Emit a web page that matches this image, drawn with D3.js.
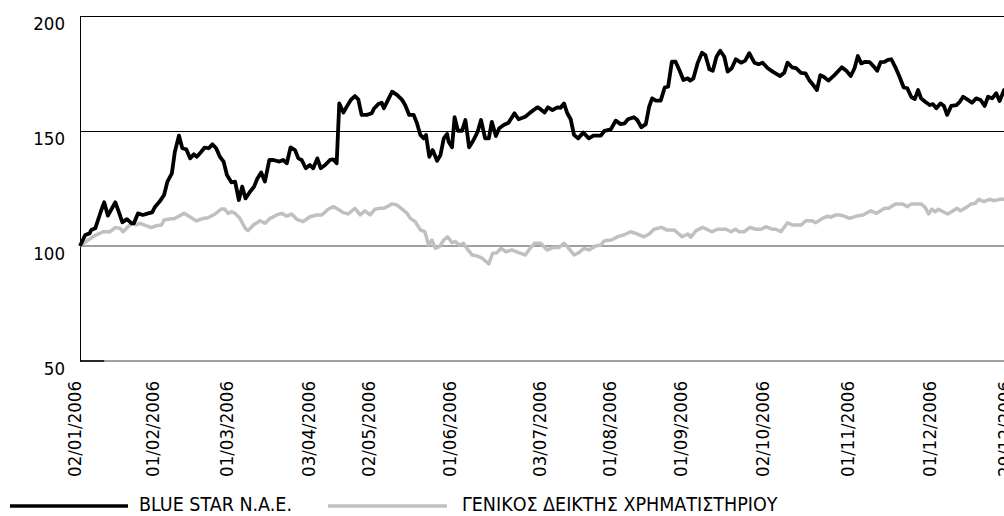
<!DOCTYPE html>
<html>
<head>
<meta charset="utf-8">
<script src="https://cdn.jsdelivr.net/npm/d3@7"></script>
<style>
  html, body { margin: 0; padding: 0; background: #fff; }
  svg { display: block; font-family: "DejaVu Sans Condensed", "DejaVu Sans", sans-serif; }
</style>
</head>
<body>
<svg id="chart"></svg>
<script>
// trading-day index (0 = 02/01/2006) and index value (base 100)
const blueStar = [[0,100],[1.4,104.8],[2.6,105.5],[3.0,107],[4.1,107.7],[5.6,115],[6.5,119],[7.5,113.2],[9.5,119],[10.4,114.9],[11.4,110.3],[12.6,111.7],[13.8,109.9],[14.5,109.9],[15.6,114.2],[16.9,113.5],[18.3,114.2],[19.4,114.6],[20.2,117.1],[21.4,119.3],[22.6,122.2],[23.5,128],[24.7,131.6],[25.5,141],[26.6,148],[27.5,142.5],[28.6,142],[29.6,138.1],[30.6,139.9],[31.4,138.8],[32.6,141],[33.5,142.8],[34.6,142.5],[35.6,144.2],[36.6,142.5],[37.6,138.8],[38.6,136.7],[39.5,130.9],[40.7,127.7],[41.7,128],[42.7,120],[43.6,125.8],[44.5,120.7],[45.7,123.6],[46.8,125.8],[47.7,129.4],[48.7,132],[49.7,128],[50.9,137.4],[52.0,137.4],[53.6,136.7],[54.6,137.4],[55.6,136],[56.6,142.9],[57.8,141.7],[58.7,138.1],[59.6,137.4],[60.7,133.8],[61.8,135.2],[62.7,133.8],[63.8,138.1],[64.7,133.8],[65.9,135.2],[67.2,137.4],[68.1,137.7],[69.0,136],[69.7,162],[70.8,158],[71.7,160.6],[72.8,163.5],[73.9,165.2],[74.8,163.8],[75.7,157],[77.1,157],[78.4,157.7],[79.1,159.9],[80.2,161.7],[81.1,162.3],[81.7,159.9],[83.0,164.2],[83.9,167.1],[85.2,165.7],[86.6,163.5],[87.4,161.3],[88.5,157],[89.7,157],[90.6,153.3],[91.5,148.3],[92.4,146.8],[93.0,148.3],[93.9,138.8],[94.8,141.7],[96.0,137.1],[96.9,139.6],[97.8,146.8],[98.7,148.7],[99.1,145.3],[100.0,142.9],[100.7,156],[101.6,150.1],[102.7,150.1],[103.6,154.8],[104.6,142.9],[105.8,146.1],[106.9,149.7],[107.8,154.8],[108.9,146.8],[109.9,146.8],[110.7,154],[111.8,147.8],[112.7,151.2],[113.9,152.6],[115.2,153.6],[116.8,157.7],[117.9,155.1],[119.7,156.2],[121.0,158],[122.6,159.9],[123.1,160.3],[124.9,158],[125.8,160.3],[127.0,159.1],[128.3,160.3],[129.2,160.1],[130.1,162],[131.0,157.7],[131.9,155.1],[132.8,148.3],[133.9,146.8],[135.3,149.3],[136.8,146.8],[138.0,148],[140.0,148],[141.0,150.1],[142.7,150.7],[144.0,154.5],[145.3,153],[146.4,153.3],[147.3,155.1],[148.9,156],[149.8,154.8],[150.9,151.6],[152.1,153],[153.0,160.6],[153.8,164.2],[154.8,163.2],[156.1,163.2],[157.2,169],[158.1,169.3],[159.1,180.1],[160.1,180.1],[161.2,176.2],[162.2,172.2],[163.4,172.9],[164.0,171.9],[164.9,172.9],[166.0,179.4],[167.2,184],[168.1,183],[169.2,176.8],[170.1,176.2],[171.1,182.3],[172.1,184.9],[173.2,182.3],[174.1,175.8],[175.2,177.3],[176.3,181.2],[177.7,179.7],[178.8,180.6],[179.9,183.8],[181.3,179.7],[182.4,179],[183.5,179.7],[184.9,177.3],[186.2,175.8],[188.2,173.9],[189.3,175.3],[190.2,179.7],[191.4,177.7],[192.5,177.3],[193.8,175.3],[195.0,175.1],[196.0,172.2],[197.1,170],[198.1,167.8],[199.0,174.3],[199.9,173.6],[201.2,171.9],[202.8,174.3],[204.8,177.7],[206.0,176.2],[207.2,173.9],[208.2,177.3],[209.1,182.6],[210.0,179.4],[211.1,180.1],[212.3,179.9],[213.4,178],[214.3,176.2],[215.2,179.9],[216.3,180.1],[217.2,180.9],[218.1,181.2],[219.2,177.7],[220.3,173.6],[221.4,169],[222.4,168.6],[223.5,164.7],[224.4,163.9],[225.3,167.8],[226.1,164.2],[227.2,162.7],[228.4,161.3],[229.3,161.7],[230.2,159.9],[231.3,162],[232.2,161],[233.1,157],[234.2,160.9],[235.6,161.3],[236.5,162.7],[237.4,164.9],[238.7,163.5],[239.8,162.3],[240.9,164.2],[242.1,163.5],[243.2,160.9],[244.1,164.9],[245.2,164.2],[246.3,166.4],[247.2,163],[248.4,167.8],[250,169]];

const genikos = [[0,100],[2.2,102.6],[4.0,104.5],[6.2,106.2],[8.0,106.2],[9.5,108],[10.7,107.7],[11.6,106.2],[12.9,108.4],[14.2,109.9],[15.1,109.1],[16.0,109.9],[17.4,109.1],[19.2,108],[20.5,108.8],[21.9,109.1],[22.6,111.3],[24.1,111.7],[25.5,112],[26.3,112.7],[28.0,114.2],[29.5,112.7],[31.3,110.9],[33.1,112],[34.4,112.3],[36.2,113.8],[38.0,116.1],[38.9,116.1],[39.8,114.2],[40.7,114.9],[41.7,114.2],[43.0,112],[44.4,107.7],[45.2,106.7],[46.6,109.1],[48.4,111],[49.7,109.9],[51.1,112],[52.9,113.5],[54.2,114.2],[55.6,113],[56.9,113.9],[58.3,111.6],[60.0,110.6],[61.8,112.7],[63.6,113.5],[65.0,113.5],[66.7,116],[68.1,117.1],[69.4,116],[70.8,114.5],[72.1,113.9],[73.9,116.4],[75.3,113.5],[76.6,115.3],[78.0,113.5],[79.3,116],[80.6,116.4],[81.7,116.4],[82.5,117.1],[83.9,118.3],[85.2,117.8],[86.6,116],[87.9,114.2],[88.8,112],[90.1,110.6],[91.5,107],[92.7,106.2],[93.7,100.4],[94.6,102.6],[95.5,99],[96.6,99.7],[97.8,102.6],[98.8,104],[100.0,101.4],[100.9,101.9],[102.0,100.4],[103.1,101.2],[104.3,98.3],[105.4,96.1],[106.7,95.7],[108.1,94.7],[108.9,93.6],[109.9,92.2],[110.9,96.8],[112.1,97.1],[113.2,99],[114.5,97.5],[116.1,98.3],[117.9,97.1],[119.7,96.1],[121.0,99],[122.2,101.2],[123.8,101.2],[125.6,98.3],[127.4,99.4],[128.8,99.4],[130.1,101.2],[131.4,99],[132.8,96.1],[134.1,97.1],[135.5,99],[136.8,98.3],[138.6,100],[140.0,100.4],[141.0,102.3],[142.8,102.6],[144.9,104.3],[146.2,104.8],[148.0,106.2],[149.4,105.5],[151.6,104],[153.0,105.2],[154.3,107.3],[156.3,108.1],[157.7,107],[159.7,107],[161.9,104],[163.4,105.2],[164.2,103.8],[165.6,106.7],[167.4,108.1],[169.9,106.2],[171.4,107.3],[173.7,107.3],[175.0,106.2],[176.2,107.3],[177.2,106.2],[178.6,106.2],[180.1,108.1],[181.7,107.3],[183.1,107.3],[184.4,108.4],[186.0,107.3],[187.1,107.3],[188.4,106.2],[190.2,110.1],[191.6,109.1],[193.8,109.1],[195.2,111],[196.8,111],[197.8,110.1],[199.6,112],[201.0,113],[201.9,112.5],[203.0,113.5],[204.3,113.5],[205.4,113],[206.9,112],[208.7,113],[210.5,113.5],[212.6,115.3],[214.1,114.2],[216.3,116.4],[217.4,116.4],[219.2,118.3],[221.2,118.3],[222.4,117.1],[223.5,118.3],[226.1,118.3],[227.2,116.8],[228.1,113.9],[229.0,116],[229.9,114.9],[230.8,116],[232.0,114.9],[233.3,113.9],[234.7,115.3],[235.8,116.4],[236.7,115.3],[238.3,116.8],[239.6,118.3],[240.7,118.6],[241.6,120.3],[243.0,119.3],[244.5,120.3],[245.9,119.7],[247.2,120.3],[248.4,120.3],[250,121]];

const tickDays = [0, 21, 41, 63, 79, 101, 125, 144, 163, 185, 208, 230, 250];
const tickLabels = ["02/01/2006", "01/02/2006", "01/03/2006", "03/04/2006", "02/05/2006", "01/06/2006",
  "03/07/2006", "01/08/2006", "01/09/2006", "02/10/2006", "01/11/2006", "01/12/2006", "29/12/2006"];
const yTicks = [50, 100, 150, 200];
const seriesNames = ["BLUE STAR N.A.E.", "ΓΕΝΙΚΟΣ ΔΕΙΚΤΗΣ ΧΡΗΜΑΤΙΣΤΗΡΙΟΥ"];
const seriesColors = ["#000000", "#c0c0c0"];

const W = 1004, H = 516;
const margin = { top: 16, left: 80, bottom: 155 };
const plotRight = 1010;

const svg = d3.select('#chart').attr('width', W).attr('height', H);

const x = d3.scaleLinear().domain([0, 250]).range([margin.left, plotRight]);
const y = d3.scaleLinear().domain([50, 200]).range([H - margin.bottom, margin.top]);

// frame and grid
svg.append('line')
  .attr('x1', x(0)).attr('x2', plotRight)
  .attr('y1', y(200)).attr('y2', y(200))
  .attr('stroke', '#000').attr('stroke-width', 1).attr('shape-rendering', 'crispEdges');
svg.append('line')
  .attr('x1', x(0)).attr('x2', plotRight)
  .attr('y1', y(150)).attr('y2', y(150))
  .attr('stroke', '#000').attr('stroke-width', 1).attr('shape-rendering', 'crispEdges');
svg.append('line')
  .attr('x1', x(0)).attr('x2', plotRight)
  .attr('y1', y(100)).attr('y2', y(100))
  .attr('stroke', '#808080').attr('stroke-width', 1.5);
svg.append('line')
  .attr('x1', x(0)).attr('x2', plotRight)
  .attr('y1', y(50)).attr('y2', y(50))
  .attr('stroke', '#808080').attr('stroke-width', 1.5);
svg.append('line')
  .attr('x1', x(0)).attr('x2', x(6.5))
  .attr('y1', y(50)).attr('y2', y(50))
  .attr('stroke', '#000').attr('stroke-width', 1.5);
svg.append('line')
  .attr('x1', x(0)).attr('x2', x(0))
  .attr('y1', y(200)).attr('y2', y(50))
  .attr('stroke', '#000').attr('stroke-width', 1).attr('shape-rendering', 'crispEdges');

// y labels
svg.append('g').selectAll('text')
  .data(yTicks)
  .enter().append('text')
  .attr('x', 65)
  .attr('y', d => y(d) + 14)
  .attr('text-anchor', 'end')
  .attr('font-size', 18.5)
  .attr('fill', '#000')
  .text(d => d);

// x labels, rotated
svg.append('g').selectAll('text')
  .data(tickDays)
  .enter().append('text')
  .attr('transform', d => `translate(${x(d) - 6},381) rotate(-90)`)
  .attr('text-anchor', 'end')
  .attr('dy', '0.36em')
  .attr('font-size', 18.5)
  .attr('fill', '#000')
  .text((d, i) => tickLabels[i]);

const line = d3.line()
  .x(d => x(d[0]))
  .y(d => y(d[1]))
  .curve(d3.curveLinear);

svg.append('path')
  .datum(genikos)
  .attr('d', line)
  .attr('fill', 'none')
  .attr('stroke', seriesColors[1])
  .attr('stroke-width', 3.5)
  .attr('stroke-linejoin', 'round');

svg.append('path')
  .datum(blueStar)
  .attr('d', line)
  .attr('fill', 'none')
  .attr('stroke', seriesColors[0])
  .attr('stroke-width', 3.8)
  .attr('stroke-linejoin', 'round');

// legend
const legendPos = [[10, 128, 139], [328, 447, 462]];
const legend = svg.append('g');
seriesNames.forEach((name, i) => {
  legend.append('line')
    .attr('x1', legendPos[i][0]).attr('x2', legendPos[i][1])
    .attr('y1', 506).attr('y2', 506)
    .attr('stroke', seriesColors[i]).attr('stroke-width', 3.5);
  legend.append('text')
    .attr('x', legendPos[i][2]).attr('y', 511)
    .attr('font-size', 19.5)
    .attr('fill', '#000')
    .text(name);
});
</script>
</body>
</html>
